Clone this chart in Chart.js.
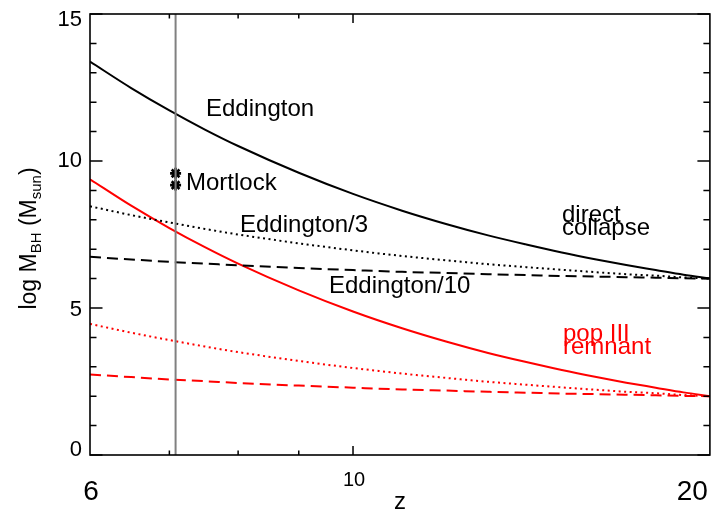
<!DOCTYPE html>
<html>
<head>
<meta charset="utf-8">
<script src="https://cdn.jsdelivr.net/npm/chart.js@4/dist/chart.umd.min.js"></script>
<style>
html,body{margin:0;padding:0;background:#fff;}
#wrap{width:718px;height:512px;position:relative;}
</style>
</head>
<body>
<div id="wrap"><canvas id="c" width="718" height="512"></canvas></div>
<script>
// Redshift sample points
const zValues = [6, 6.5, 7, 7.5, 8, 9, 10, 11, 12, 13, 14, 15, 16, 17, 18, 19, 20];
// Direct collapse seed (log M = 6 at z = 20)
const dcEddington   = [13.38, 12.48, 11.72, 11.07, 10.51, 9.60, 8.88, 8.31, 7.85, 7.47, 7.16, 6.89, 6.66, 6.46, 6.29, 6.13, 6.00];
const dcEddington3  = [8.46, 8.16, 7.91, 7.69, 7.50, 7.20, 6.96, 6.77, 6.62, 6.49, 6.39, 6.30, 6.22, 6.15, 6.10, 6.04, 6.00];
const dcEddington10 = [6.74, 6.65, 6.57, 6.51, 6.45, 6.36, 6.29, 6.23, 6.19, 6.15, 6.12, 6.09, 6.07, 6.05, 6.03, 6.01, 6.00];
// Pop III remnant seed (log M = 2 at z = 20)
const p3Eddington   = [9.38, 8.48, 7.72, 7.07, 6.51, 5.60, 4.88, 4.31, 3.85, 3.47, 3.16, 2.89, 2.66, 2.46, 2.29, 2.13, 2.00];
const p3Eddington3  = [4.46, 4.16, 3.91, 3.69, 3.50, 3.20, 2.96, 2.77, 2.62, 2.49, 2.39, 2.30, 2.22, 2.15, 2.10, 2.04, 2.00];
const p3Eddington10 = [2.74, 2.65, 2.57, 2.51, 2.45, 2.36, 2.29, 2.23, 2.19, 2.15, 2.12, 2.09, 2.07, 2.05, 2.03, 2.01, 2.00];
// Mortlock quasar
const mortlockZ = 7.085;
const mortlockMass = [9.58, 9.18];
// Axis ticks
const xTickLabels = [6, 10, 20];
const xMinorTicks = [7, 8, 9];
const yTickLabels = [0, 5, 10, 15];

const FONT = '"Liberation Sans", Arial, Helvetica, sans-serif';
const toXY = (ys) => zValues.map((z, i) => ({x: z, y: ys[i]}));

function lineDs(ys, color, dash) {
  return {
    data: toXY(ys), borderColor: color, borderWidth: 2, borderDash: dash,
    pointRadius: 0, fill: false, cubicInterpolationMode: 'monotone', borderCapStyle: 'butt'
  };
}

const DOT = [2, 3.5], DASH = [11, 6];

const annotations = {
  id: 'annotations',
  afterDraw(chart) {
    const {ctx, chartArea: a, scales: {x: xs, y: ys}} = chart;
    ctx.save();
    // frame
    ctx.strokeStyle = '#000';
    ctx.lineWidth = 1.6;
    ctx.strokeRect(a.left, a.top, a.right - a.left, a.bottom - a.top);
    // y ticks (inward, both sides)
    ctx.lineWidth = 1.5;
    ctx.beginPath();
    for (let v = 0; v <= 15; v++) {
      const py = ys.getPixelForValue(v);
      const len = v % 5 === 0 ? 12.5 : 6.5;
      ctx.moveTo(a.left, py); ctx.lineTo(a.left + len, py);
      ctx.moveTo(a.right, py); ctx.lineTo(a.right - len, py);
    }
    // x ticks (inward, top & bottom)
    const xt = xMinorTicks.map(v => [v, 4.5]).concat([[10, 9]]);
    for (const [v, len] of xt) {
      const px = xs.getPixelForValue(v);
      ctx.moveTo(px, a.bottom); ctx.lineTo(px, a.bottom - len);
      ctx.moveTo(px, a.top); ctx.lineTo(px, a.top + len);
    }
    ctx.stroke();

    ctx.fillStyle = '#000';
    // y tick labels (end labels nudged inside like the original)
    ctx.font = '22px ' + FONT;
    ctx.textAlign = 'right';
    ctx.textBaseline = 'middle';
    for (const v of yTickLabels) {
      let py = ys.getPixelForValue(v);
      if (v === 15) py += 6;
      if (v === 0) py -= 5;
      if (v === 5) py += 2;
      ctx.fillText(String(v), a.left - 8, py);
    }

    // x tick labels
    ctx.textBaseline = 'alphabetic';
    ctx.textAlign = 'center';
    ctx.font = '28px ' + FONT;
    ctx.fillText(String(xTickLabels[0]), xs.getPixelForValue(xTickLabels[0]) + 1, 500);
    ctx.textAlign = 'right';
    ctx.fillText(String(xTickLabels[2]), xs.getPixelForValue(xTickLabels[2]) - 2, 500);
    ctx.textAlign = 'center';
    ctx.font = '20px ' + FONT;
    ctx.fillText(String(xTickLabels[1]), xs.getPixelForValue(xTickLabels[1]) + 1, 486);
    // x title
    ctx.font = '24px ' + FONT;
    ctx.fillText('z', (a.left + a.right) / 2, 509);

    // y title with subscripts
    const parts = [
      ['log M', 23, 0], ['BH', 15, 5], [' (M', 23, 0], ['sun', 15, 5], [')', 23, 0]
    ];
    let total = 0;
    for (const [t, s] of parts) { ctx.font = s + 'px ' + FONT; total += ctx.measureText(t).width; }
    ctx.save();
    ctx.translate(36, (a.top + a.bottom) / 2 + 4);
    ctx.rotate(-Math.PI / 2);
    ctx.textAlign = 'left';
    let cx = -total / 2;
    for (const [t, s, off] of parts) {
      ctx.font = s + 'px ' + FONT;
      ctx.fillText(t, cx, off);
      cx += ctx.measureText(t).width;
    }
    ctx.restore();

    // curve labels
    ctx.textAlign = 'left';
    ctx.font = '24px ' + FONT;
    ctx.fillStyle = '#000';
    ctx.fillText('Eddington', 206, 116);
    ctx.fillText('Mortlock', 186, 190);
    ctx.fillText('Eddington/3', 240, 232);
    ctx.fillText('Eddington/10', 329, 293);
    ctx.fillText('direct', 562, 222);
    ctx.fillText('collapse', 562, 235);
    ctx.fillStyle = '#ff0000';
    ctx.fillText('pop III', 563, 341);
    ctx.fillText('remnant', 563, 354);
    ctx.restore();
  }
};

new Chart(document.getElementById('c'), {
  type: 'line',
  data: {
    datasets: [
      {data: [{x: mortlockZ, y: 0}, {x: mortlockZ, y: 15}], borderColor: '#808080', borderWidth: 2, pointRadius: 0, fill: false},
      lineDs(dcEddington, '#000000', []),
      lineDs(dcEddington3, '#000000', DOT),
      lineDs(dcEddington10, '#000000', DASH),
      lineDs(p3Eddington, '#ff0000', []),
      lineDs(p3Eddington3, '#ff0000', DOT),
      lineDs(p3Eddington10, '#ff0000', DASH),
      {data: mortlockMass.map(m => ({x: mortlockZ, y: m})), showLine: false, pointStyle: 'star',
       pointRadius: 5.5, pointBorderColor: '#000', pointBorderWidth: 2.6, pointBackgroundColor: '#000'}
    ]
  },
  options: {
    responsive: false, animation: false, devicePixelRatio: 1,
    layout: {padding: {top: 14, right: 6, left: 0, bottom: 0}},
    plugins: {legend: {display: false}, tooltip: {enabled: false}},
    scales: {
      x: {
        type: 'logarithmic', min: 6, max: 20,
        grid: {display: false}, border: {display: false},
        ticks: {display: false},
        afterFit(s) { s.height = 57; }
      },
      y: {
        type: 'linear', min: 0, max: 15,
        grid: {display: false, drawTicks: false}, border: {display: false},
        afterBuildTicks(s) { s.ticks = yTickLabels.map(v => ({value: v})); },
        ticks: {display: false},
        afterFit(s) { s.width = 90; }
      }
    }
  },
  plugins: [annotations]
});
</script>
</body>
</html>
